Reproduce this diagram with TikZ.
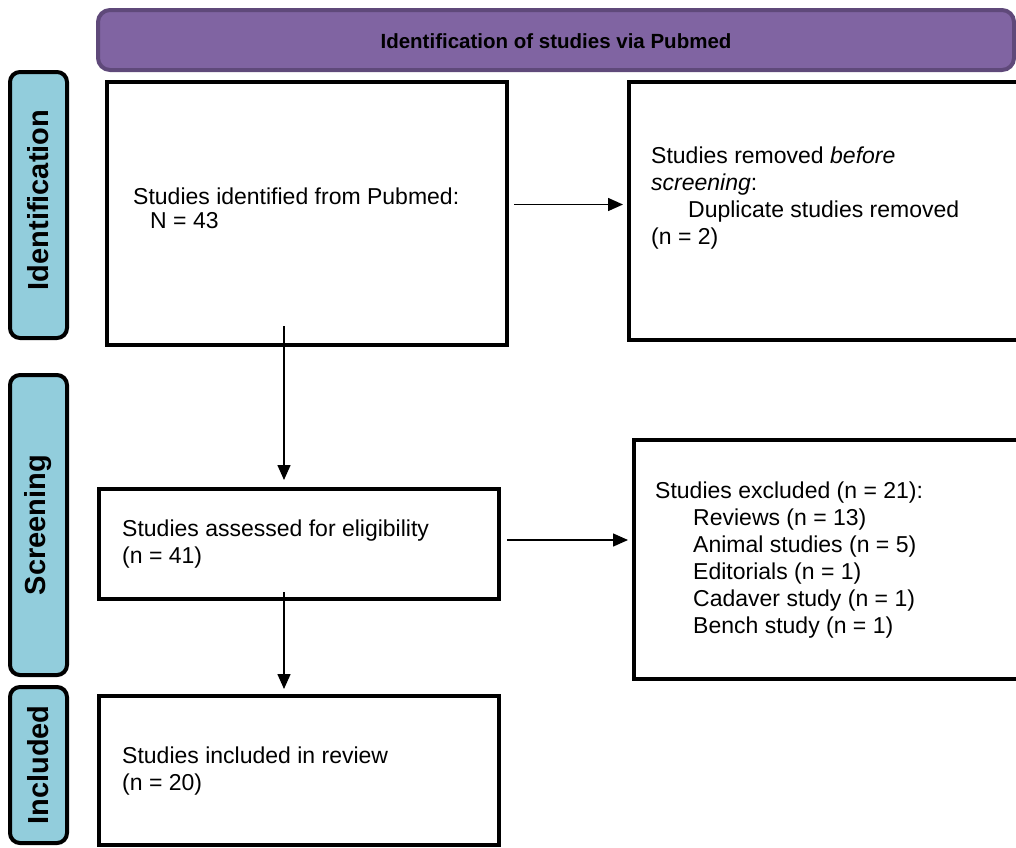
\documentclass[tikz,border=0pt]{standalone}
\usepackage{fontspec}
\setmainfont{Liberation Sans}
\usetikzlibrary{arrows.meta}
\definecolor{hdrfill}{HTML}{8064A2}
\definecolor{hdrline}{HTML}{5F497A}
\definecolor{sidefill}{HTML}{92CDDC}
\tikzset{
  flowbox/.style={draw=black, line width=4pt, fill=white, inner sep=0pt, anchor=north west},
  sidebox/.style={draw=black, line width=4pt, fill=sidefill, rounded corners=10pt},
  sidelabel/.style={font=\fontsize{29}{32}\selectfont\bfseries, rotate=90, inner sep=0pt},
  bodytext/.style={font=\fontsize{23}{27}\selectfont, align=left, anchor=west, inner sep=0pt},
  arr/.style={line width=1.5pt, -{Triangle[length=15pt,width=13pt]}},
}
\begin{document}
\begin{tikzpicture}[x=1pt,y=-1pt]
\useasboundingbox (0,0) rectangle (1016,847);
% header
\draw[line width=4pt, draw=hdrline, fill=hdrfill, rounded corners=12pt] (98,10) rectangle (1014,70);
\node[font=\fontsize{20.5}{24}\selectfont\bfseries, inner sep=0pt] (hdr) at (556,41) {Identification of studies via Pubmed};
% side boxes
\draw[sidebox] (10,72) rectangle (67,338);
\node[sidelabel] (sid) at (38.5,200) {Identification};
\draw[sidebox] (10,375) rectangle (67,675);
\node[sidelabel] (ssc) at (38.5,525) {Screening};
\draw[sidebox] (10,687) rectangle (67,843);
\node[sidelabel] (sin) at (38.5,765) {Included};
% boxes
\node[flowbox, minimum width=400pt, minimum height=263pt] (b1) at (105,80) {};
\node[flowbox, minimum width=420pt, minimum height=258pt] (b2) at (627,80) {};
\node[flowbox, minimum width=400pt, minimum height=110pt] (b3) at (97,487) {};
\node[flowbox, minimum width=400pt, minimum height=149pt] (b4) at (97,694) {};
\node[flowbox, minimum width=420pt, minimum height=239pt] (b5) at (632,438) {};
% texts
\node[bodytext, font=\fontsize{23}{24}\selectfont] (t1) at (133,208) {Studies identified from Pubmed:\\\hspace*{17pt}N = 43};
\node[bodytext] (t2) at (651,198) {Studies removed \textit{before}\\\textit{screening}:\\\hspace*{37pt}Duplicate studies removed\\(n = 2)};
\node[bodytext] (t3) at (122,544) {Studies assessed for eligibility\\(n = 41)};
\node[bodytext] (t4) at (122,771) {Studies included in review\\(n = 20)};
\node[bodytext] (t5) at (655,560) {Studies excluded (n = 21):\\\hspace*{38pt}Reviews (n = 13)\\\hspace*{38pt}Animal studies (n = 5)\\\hspace*{38pt}Editorials (n = 1)\\\hspace*{38pt}Cadaver study (n = 1)\\\hspace*{38pt}Bench study (n = 1)};
% arrows
\coordinate (a1) at (284,326);
\coordinate (a2) at (284,592);
\draw[arr] ([xshift=5pt,yshift=9pt]b1.east) -- ([xshift=-4pt,yshift=9pt]b2.west |- b1.east);
\draw[arr] (a1) -- ([yshift=7pt]a1 |- b3.north);
\draw[arr] (a2) -- ([yshift=5pt]a2 |- b4.north);
\draw[arr] ([xshift=6pt,yshift=4pt]b3.east) -- ([xshift=-4pt,yshift=4pt]b5.west |- b3.east);
\end{tikzpicture}
\end{document}
